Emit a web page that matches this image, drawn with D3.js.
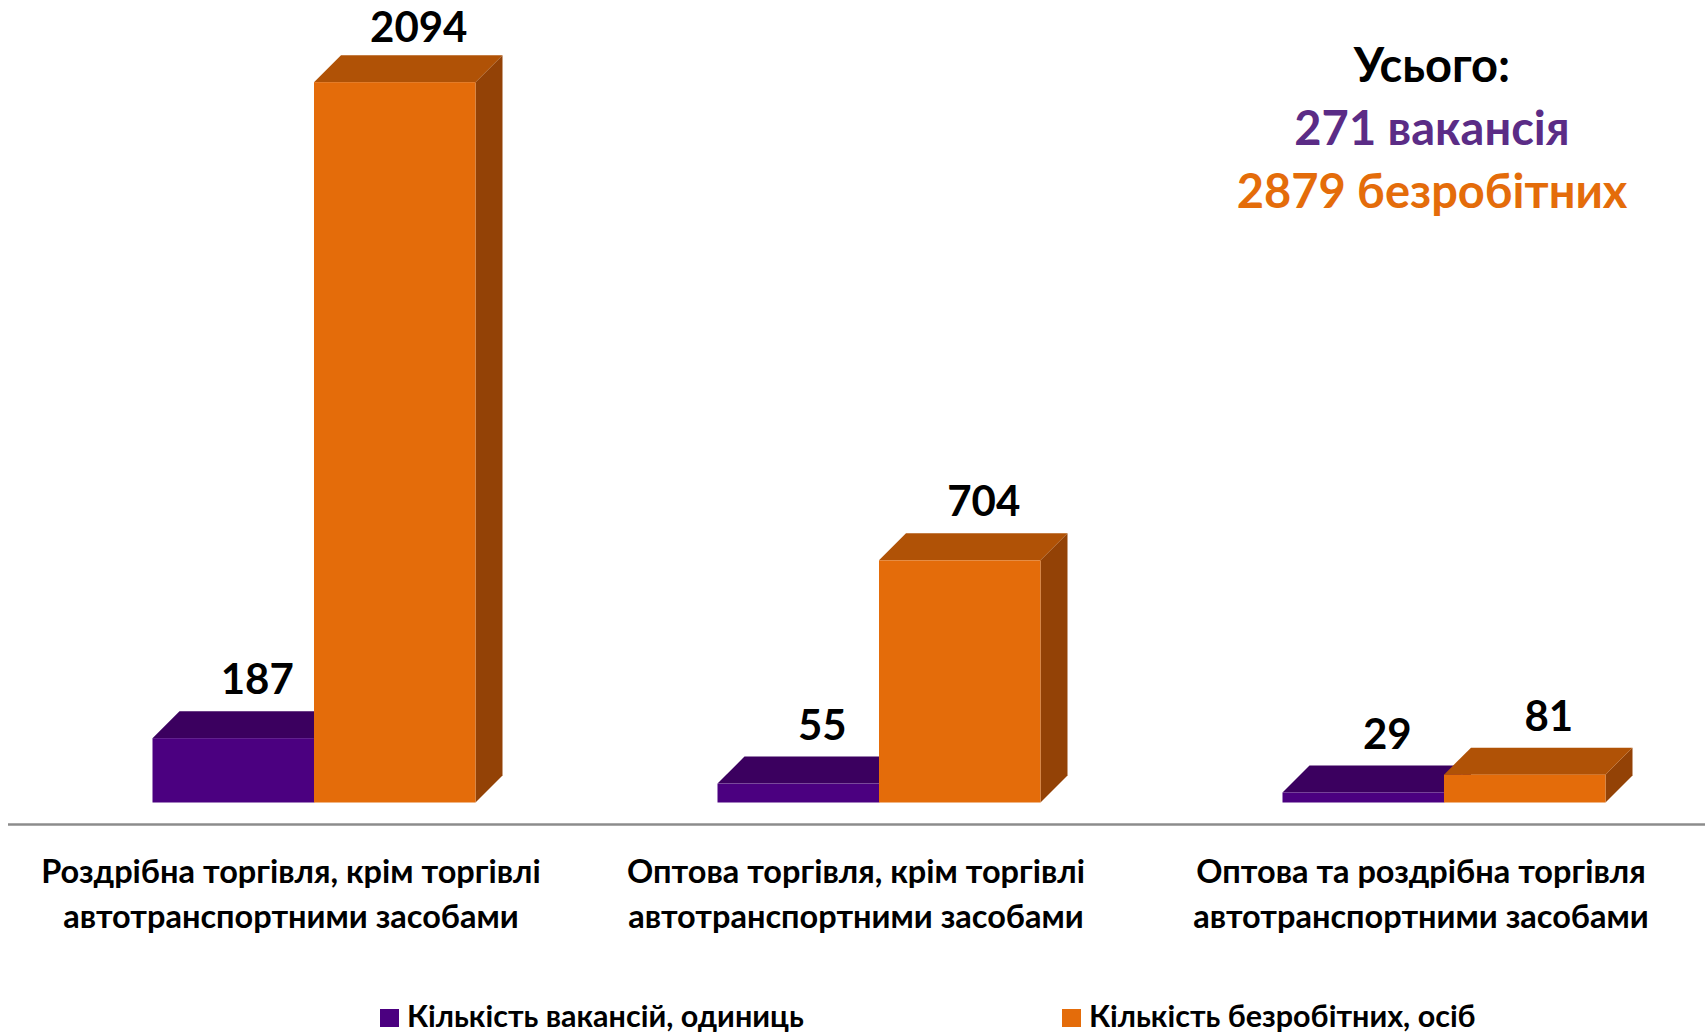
<!DOCTYPE html>
<html>
<head>
<meta charset="utf-8">
<script src="https://cdn.jsdelivr.net/npm/d3@7"></script>
<style>
  html, body { margin: 0; padding: 0; background: #fff; }
  svg { display: block; }
  text { font-family: Lato, "Open Sans", sans-serif; font-weight: bold; }
</style>
</head>
<body>
<div id="chart"></div>
<script>
// Categories (each label is split on two lines)
var categories = [
    ["Роздрібна торгівля, крім торгівлі", "автотранспортними засобами"],
    ["Оптова торгівля, крім торгівлі", "автотранспортними засобами"],
    ["Оптова та роздрібна торгівля", "автотранспортними засобами"]
];
var vacancies = [187, 55, 29];
var unemployed = [2094, 704, 81];
var seriesNames = ["Кількість вакансій, одиниць", "Кількість безробітних, осіб"];
var totalLines = ["Усього:", "271 вакансія", "2879 безробітних"];

var width = 1705, height = 1032;
var barW = 161.5, depth = 27;

// colours: front, top, side
var purple = {front: "#4b0080", top: "#3b005f", side: "#30004e"};
var orange = {front: "#e46c0a", top: "#b05206", side: "#934206"};

var svg = d3.select("#chart").append("svg")
    .attr("width", width)
    .attr("height", height);

var x = d3.scalePoint().domain(d3.range(categories.length)).range([314, 1444]);
var y = d3.scaleLinear().domain([0, 2500]).range([802.5, -57.5]);

// build the bar list: purple left of center, orange right
var bars = [];
categories.forEach(function(c, i) {
    bars.push({i: i, v: vacancies[i], x0: x(i) - barW, col: purple});
    bars.push({i: i, v: unemployed[i], x0: x(i), col: orange});
});

function box(g, d) {
    var x0 = d.x0, x1 = d.x0 + barW, y0 = y(0), y1 = y(d.v);
    // side
    g.append("path")
        .attr("d", "M" + x1 + "," + y0 + "L" + (x1 + depth) + "," + (y0 - depth) +
            "L" + (x1 + depth) + "," + (y1 - depth) + "L" + x1 + "," + y1 + "Z")
        .attr("fill", d.col.side);
    // top
    g.append("path")
        .attr("d", "M" + x0 + "," + y1 + "L" + (x0 + depth) + "," + (y1 - depth) +
            "L" + (x1 + depth) + "," + (y1 - depth) + "L" + x1 + "," + y1 + "Z")
        .attr("fill", d.col.top);
    // front
    g.append("rect")
        .attr("x", x0)
        .attr("y", y1)
        .attr("width", barW)
        .attr("height", y0 - y1)
        .attr("fill", d.col.front);
}

var barG = svg.append("g").attr("class", "bars");
bars.forEach(function(d) {
    box(barG.append("g"), d);
});

// value labels (kept inside the top edge)
svg.append("g").selectAll("text")
    .data(bars)
    .enter().append("text")
        .attr("x", function(d) { return d.x0 + barW / 2 + 24; })
        .attr("y", function(d) { return Math.max(42, y(d.v) - depth - 17); })
        .attr("text-anchor", "middle")
        .attr("font-size", 42)
        .attr("fill", "#000")
        .text(function(d) { return d.v; });

// baseline
svg.append("line")
    .attr("x1", 8).attr("x2", width)
    .attr("y1", 824.5).attr("y2", 824.5)
    .attr("stroke", "#8c8c8c")
    .attr("stroke-width", 2.5);

// category labels
var catG = svg.append("g").selectAll("text")
    .data(categories)
    .enter().append("text")
        .attr("text-anchor", "middle")
        .attr("font-size", 32.5)
        .attr("fill", "#000")
        .attr("transform", function(d, i) { return "translate(" + (x(i) - 23) + ",0)"; });

catG.selectAll("tspan")
    .data(function(d) { return d; })
    .enter().append("tspan")
        .attr("x", 0)
        .attr("y", function(d, j) { return 883 + j * 45; })
        .text(function(d) { return d; });

// totals block
var totalColors = ["#000", "#5b2c86", "#e46c0a"];
svg.append("g").selectAll("text")
    .data(totalLines)
    .enter().append("text")
        .attr("x", 1432)
        .attr("y", function(d, i) { return 81.5 + i * 63; })
        .attr("text-anchor", "middle")
        .attr("font-size", 47)
        .attr("fill", function(d, i) { return totalColors[i]; })
        .text(function(d) { return d; });

// legend
var legendX = [380, 1062];
var legend = svg.append("g").selectAll("g")
    .data(seriesNames)
    .enter().append("g")
        .attr("transform", function(d, i) { return "translate(" + legendX[i] + ",1009)"; });

legend.append("rect")
    .attr("width", 19)
    .attr("height", 18)
    .attr("fill", function(d, i) { return i == 0 ? purple.front : orange.front; });

legend.append("text")
    .attr("x", 27)
    .attr("y", 17.5)
    .attr("font-size", 30.5)
    .attr("fill", "#000")
    .text(function(d) { return d; });
</script>
</body>
</html>
